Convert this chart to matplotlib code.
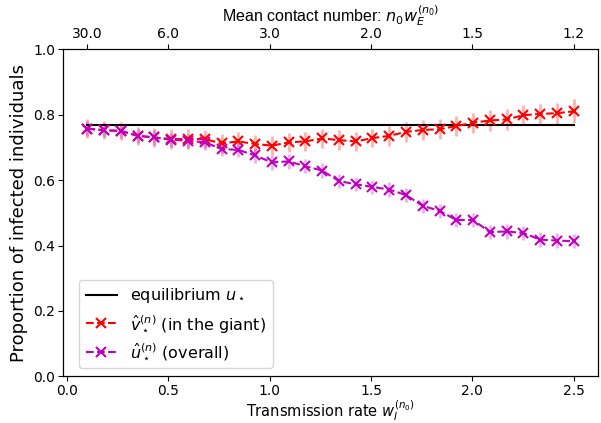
import numpy as np
import matplotlib.pyplot as plt

w_i = np.linspace(0.1, 2.5, 30)
equilibrium = 0.767

v_giant = [0.757, 0.752, 0.750, 0.735, 0.730, 0.725, 0.725, 0.725, 0.712, 0.718,
           0.710, 0.705, 0.715, 0.718, 0.727, 0.722, 0.718, 0.728, 0.735, 0.747,
           0.753, 0.755, 0.765, 0.775, 0.782, 0.785, 0.798, 0.802, 0.804, 0.810]
v_err = [0.03, 0.028, 0.028, 0.028, 0.028, 0.03, 0.03, 0.028, 0.028, 0.028,
         0.028, 0.028, 0.028, 0.03, 0.028, 0.03, 0.03, 0.028, 0.03, 0.03,
         0.03, 0.03, 0.03, 0.03, 0.032, 0.032, 0.03, 0.03, 0.032, 0.036]

u_overall = [0.757, 0.752, 0.750, 0.735, 0.730, 0.723, 0.720, 0.715, 0.695, 0.692,
             0.675, 0.654, 0.657, 0.642, 0.629, 0.597, 0.587, 0.579, 0.571, 0.554,
             0.521, 0.506, 0.478, 0.478, 0.441, 0.443, 0.438, 0.418, 0.415, 0.413]
u_err = [0.022] * 30

top_ticks = [0.1, 0.5, 1.0, 1.5, 2.0, 2.5]
top_labels = ['30.0', '6.0', '3.0', '2.0', '1.5', '1.2']

fig, ax = plt.subplots(figsize=(6.01, 4.23), dpi=100)
fig.subplots_adjust(left=0.105, right=0.995, top=0.884, bottom=0.11)

# error bars first, then the lines that go in the legend
ax.errorbar(w_i, v_giant, yerr=v_err, fmt='none', ecolor=(1, 0, 0, 0.3), elinewidth=2)
ax.errorbar(w_i, u_overall, yerr=u_err, fmt='none', ecolor=(0.75, 0, 0.75, 0.3), elinewidth=2)

ax.plot([w_i[0], w_i[-1]], [equilibrium, equilibrium], color='k', lw=1.5,
        label=r'equilibrium $u_\star$')
ax.plot(w_i, v_giant, '--x', color='r', ms=7, lw=1.5, mew=1.5,
        label=r'$\hat{v}_\star^{(n)}$ (in the giant)')
ax.plot(w_i, u_overall, '--x', color='m', ms=7, lw=1.5, mew=1.5,
        label=r'$\hat{u}_\star^{(n)}$ (overall)')

ax.set_xlim(-0.02, 2.62)
ax.set_ylim(0, 1)
ax.tick_params(pad=2)
ax.set_xlabel(r'Transmission rate $w_I^{(n_0)}$', fontsize=10.5, labelpad=0)
ax.set_ylabel('Proportion of infected individuals', fontsize=13)
ax.legend(loc='lower left', fontsize=11.5, bbox_to_anchor=(0.015, 0.0))

ax2 = ax.twiny()
ax2.set_xlim(ax.get_xlim())
ax2.set_xticks(top_ticks)
ax2.set_xticklabels(top_labels)
ax2.tick_params(pad=2)
ax2.set_xlabel(r'Mean contact number: $n_0w_E^{(n_0)}$', fontsize=11.5,
               family=['Liberation Sans', 'DejaVu Sans'], labelpad=4)

plt.savefig('out.png')
